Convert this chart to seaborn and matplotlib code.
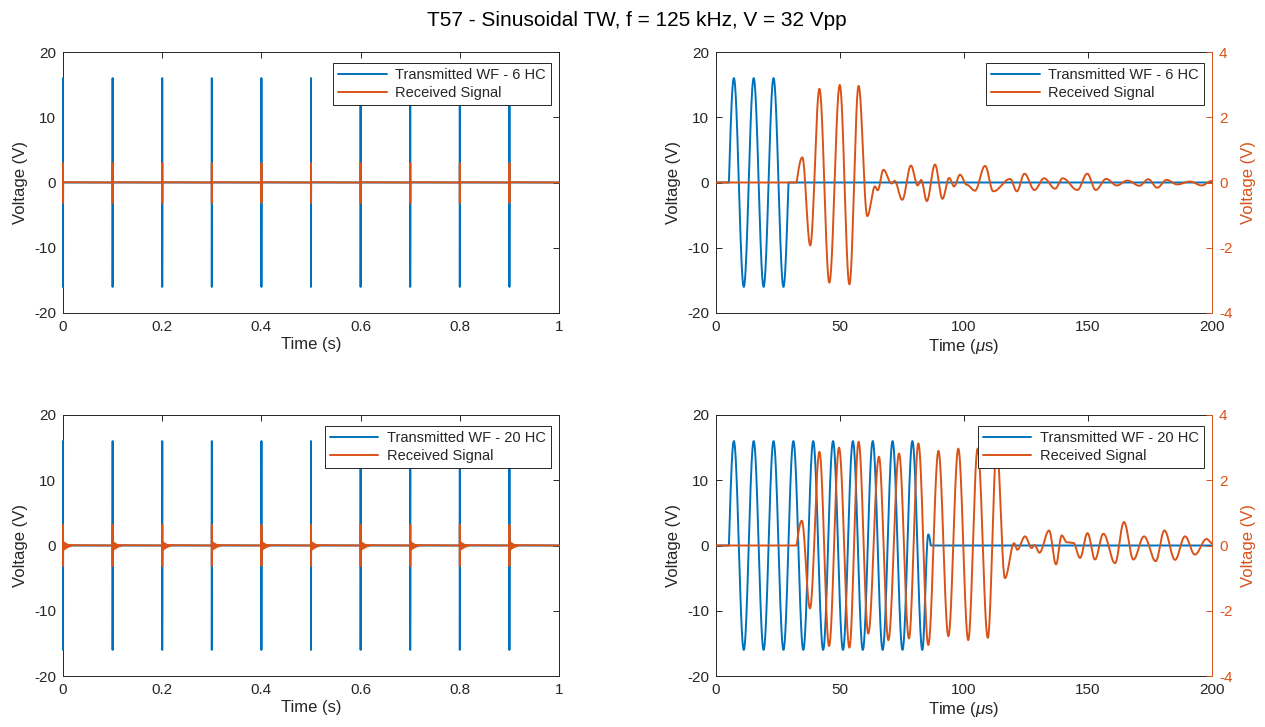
import numpy as np
import pandas as pd
import matplotlib
matplotlib.use("Agg")
import matplotlib.pyplot as plt
from matplotlib.ticker import FixedLocator
import seaborn as sns

# ---------------------------------------------------------------------------
# Data: turning points of each trace (time in microseconds, voltage in V)
# ---------------------------------------------------------------------------
TITLE = "T57 - Sinusoidal TW, f = 125 kHz, V = 32 Vpp"

# transmitted burst, 6 half cycles
tx6_t = [0.0, 5.2, 7.2, 11.2, 15.2, 19.2, 23.2, 27.2, 29.2, 200.0]
tx6_v = [0.0, 0.0, 16.0, -16.0, 16.0, -16.0, 16.0, -16.0, 0.0, 0.0]

# transmitted burst, 20 half cycles
tx20_t = [0.0, 5.2, 7.2, 11.2, 15.2, 19.2, 23.2, 27.2, 31.2, 35.2, 39.2, 43.2,
          47.2, 51.2, 55.2, 59.2, 63.2, 67.2, 71.2, 75.2, 79.2, 83.2, 85.6,
          86.6, 200.0]
tx20_v = [0.0, 0.0, 16.0, -16.0, 16.0, -16.0, 16.0, -16.0, 16.0, -16.0, 16.0,
          -16.0, 16.0, -16.0, 16.0, -16.0, 16.0, -16.0, 16.0, -16.0, 16.0,
          -16.0, 1.7, 0.0, 0.0]

# received signal for the 6 HC burst
rx6_t = [0.0, 32.5, 34.8, 38.0, 41.7, 45.7, 49.9, 53.8, 57.5, 61.0, 64.1,
         65.2, 67.5, 70.8, 72.0, 75.1, 78.6, 81.3, 82.7, 85.0, 88.3, 91.3,
         94.0, 96.0, 98.4, 101.1, 104.4, 108.5, 111.8, 118.6, 121.3, 124.4,
         128.4, 132.3, 136.7, 139.8, 145.7, 149.7, 153.1, 157.3, 161.6, 165.9,
         170.7, 174.3, 177.9, 181.7, 186.0, 191.1, 195.8, 200.0]
rx6_v = [0.0, 0.0, 0.77, -1.93, 2.87, -3.07, 2.99, -3.12, 2.96, -1.03, -0.12,
         -0.24, 0.39, -0.03, 0.05, -0.53, 0.52, -0.09, 0.08, -0.57, 0.55,
         -0.50, 0.14, -0.12, 0.24, -0.07, -0.25, 0.51, -0.27, 0.11, -0.27,
         0.27, -0.23, 0.13, -0.19, 0.13, -0.23, 0.27, -0.23, 0.11, -0.09, 0.06,
         -0.10, 0.10, -0.16, 0.08, -0.06, 0.03, -0.09, 0.05]

# received signal for the 20 HC burst
rx20_t = [0.0, 32.5, 34.6, 37.9, 41.7, 45.6, 49.6, 53.8, 57.5, 61.4, 65.7,
          69.5, 73.8, 77.8, 81.6, 85.6, 89.7, 93.7, 97.7, 101.7, 105.5, 109.6,
          113.2, 116.5, 120.2, 121.5, 124.6, 127.3, 128.4, 130.4, 134.3, 137.1,
          139.4, 141.4, 144.1, 146.8, 149.8, 152.8, 156.2, 160.9, 164.5, 168.3,
          172.6, 177.3, 180.8, 185.1, 189.1, 193.1, 197.8, 200.0]
rx20_v = [0.0, 0.0, 0.76, -1.93, 2.87, -3.08, 3.00, -3.13, 3.18, -2.70, 2.72,
          -2.90, 2.82, -2.85, 3.13, -3.05, 2.90, -2.78, 2.97, -2.90, 2.97,
          -2.83, 3.00, -1.00, 0.07, -0.13, 0.28, -0.08, 0.02, -0.22, 0.46,
          -0.58, 0.31, 0.10, 0.08, -0.38, 0.38, -0.43, 0.36, -0.54, 0.72,
          -0.43, 0.28, -0.48, 0.46, -0.44, 0.28, -0.28, 0.20, 0.07]

# burst repetition (seconds) and the slow ring-down seen after each 20 HC echo
burst_starts = [0.0, 0.1, 0.2, 0.3, 0.4, 0.5, 0.6, 0.7, 0.8, 0.9]
ringdown_ms = [0.2, 4.0, 10.0, 17.0]
ringdown_env = [0.65, 0.45, 0.18, 0.0]

legend_top = ["Transmitted WF - 6 HC", "Received Signal"]
legend_bottom = ["Transmitted WF - 20 HC", "Received Signal"]

BLUE = "#0072BD"
ORANGE = "#D95319"
INK = "0.15"


def smooth_trace(tk, vk, step=0.05):
    """Draw a smooth oscillation through the listed turning points."""
    ts, vs = [], []
    for t0, t1, v0, v1 in zip(tk[:-1], tk[1:], vk[:-1], vk[1:]):
        n = max(int(round((t1 - t0) / step)), 2)
        s = np.linspace(0.0, 1.0, n, endpoint=False)
        if v0 == 0 and v1 == 0:
            seg = np.zeros_like(s)
        elif v0 == 0:
            seg = v1 * np.sin(0.5 * np.pi * s)
        elif v1 == 0:
            seg = v0 * np.cos(0.5 * np.pi * s)
        else:
            seg = v0 + (v1 - v0) * (1 - np.cos(np.pi * s)) / 2
        ts.append(t0 + (t1 - t0) * s)
        vs.append(seg)
    ts.append([tk[-1]])
    vs.append([vk[-1]])
    return np.concatenate(ts), np.concatenate(vs)


def repeat_bursts(t_us, v):
    """Place one burst trace at every repetition time (result in seconds)."""
    ts = [tb + t_us * 1e-6 for tb in burst_starts] + [np.array([1.0])]
    vs = [v for _ in burst_starts] + [np.array([0.0])]
    return np.concatenate(ts), np.concatenate(vs)


# ---------------------------------------------------------------------------
# Styling
# ---------------------------------------------------------------------------
sns.set_theme(style="white")
plt.rcParams["font.family"] = ["Liberation Sans", "DejaVu Sans"]
plt.rcParams["mathtext.fontset"] = "custom"
plt.rcParams["mathtext.rm"] = "Liberation Sans"
plt.rcParams["mathtext.it"] = "Liberation Sans:italic"
plt.rcParams["axes.unicode_minus"] = False

fig = plt.figure(figsize=(12.65, 7.27), dpi=100)
fig.patch.set_facecolor("white")

W_PX, H_PX = 1265, 727


def add_axes(x0, y0, x1, y1):
    return fig.add_axes([x0 / W_PX, 1 - y1 / H_PX, (x1 - x0) / W_PX, (y1 - y0) / H_PX])


def style_axes(ax, right_ticks=True):
    for side, sp in ax.spines.items():
        sp.set_color(INK)
        sp.set_linewidth(0.7)
    ax.tick_params(direction="in", length=4, width=0.7, colors=INK,
                   labelsize=11, top=True, right=right_ticks, pad=5)
    ax.set_facecolor("white")


def draw_line(ax, x, y, color, label, clip=True):
    df = pd.DataFrame({"x": x, "y": y})
    sns.lineplot(data=df, x="x", y="y", ax=ax, color=color, linewidth=1.4,
                 estimator=None, sort=False, label=label, legend=False)
    line = ax.get_lines()[-1]
    if not clip:
        line.set_clip_on(False)
        line.set_zorder(3)


def add_legend(ax, handles, labels):
    leg = ax.legend(handles, labels, loc="upper right",
                    bbox_to_anchor=(1 - 8 / 496, 1 - 11 / 261),
                    borderaxespad=0, fontsize=10.5, handlelength=3.3,
                    handletextpad=0.6, borderpad=0.35, labelspacing=0.25,
                    fancybox=False, framealpha=1, edgecolor=INK)
    leg.get_frame().set_linewidth(0.7)
    leg.set_zorder(10)
    return leg


# ---------------------------------------------------------------------------
# Left column: full one-second record; right column: one burst in detail
# ---------------------------------------------------------------------------
panels = [
    (52, 313, tx6_t, tx6_v, rx6_t, rx6_v, legend_top, False),
    (415, 676, tx20_t, tx20_v, rx20_t, rx20_v, legend_bottom, True),
]

for (y0, y1, txt, txv, rxt, rxv, labels, ringdown) in panels:
    ax = add_axes(63, y0, 559, y1)
    t_tx, v_tx = smooth_trace(txt, txv)
    t_rx, v_rx = smooth_trace(rxt, rxv)
    x_tx, y_tx = repeat_bursts(t_tx, v_tx)
    x_rx, y_rx = repeat_bursts(t_rx, v_rx)
    draw_line(ax, x_tx, y_tx, BLUE, labels[0], clip=False)
    draw_line(ax, x_rx, y_rx, ORANGE, labels[1], clip=False)
    if ringdown:
        env = np.array(ringdown_env)
        for tb in burst_starts:
            tt = tb + np.array(ringdown_ms) * 1e-3
            ax.fill_between(tt, -env, env, color=ORANGE, linewidth=0.8,
                            edgecolor=ORANGE, zorder=3)
    ax.set_xlim(0, 1)
    ax.set_ylim(-20, 20)
    ax.xaxis.set_major_locator(FixedLocator([0, 0.2, 0.4, 0.6, 0.8, 1.0]))
    ax.set_xticklabels(["0", "0.2", "0.4", "0.6", "0.8", "1"])
    ax.yaxis.set_major_locator(FixedLocator([-20, -10, 0, 10, 20]))
    ax.set_xlabel("Time (s)", fontsize=12, color=INK, labelpad=2)
    ax.set_ylabel("Voltage (V)", fontsize=12, color=INK, labelpad=4)
    style_axes(ax)
    add_legend(ax, ax.get_lines()[:2], labels)

    axl = add_axes(716, y0, 1212, y1)
    axr = axl.twinx()
    draw_line(axl, t_tx, v_tx, BLUE, labels[0])
    draw_line(axr, t_rx, v_rx, ORANGE, labels[1])
    axl.set_xlim(0, 200)
    axl.set_ylim(-20, 20)
    axr.set_ylim(-4, 4)
    axl.xaxis.set_major_locator(FixedLocator([0, 50, 100, 150, 200]))
    axl.yaxis.set_major_locator(FixedLocator([-20, -10, 0, 10, 20]))
    axr.yaxis.set_major_locator(FixedLocator([-4, -2, 0, 2, 4]))
    axl.set_xlabel(r"Time ($\mu$s)", fontsize=12, color=INK, labelpad=2)
    axl.set_ylabel("Voltage (V)", fontsize=12, color=INK, labelpad=4)
    axr.set_ylabel("Voltage (V)", fontsize=12, color=ORANGE, labelpad=6)
    style_axes(axl, right_ticks=False)
    axl.spines["right"].set_visible(False)
    for side in ("left", "top", "bottom"):
        axr.spines[side].set_visible(False)
    axr.spines["right"].set_color(ORANGE)
    axr.spines["right"].set_linewidth(0.7)
    axr.tick_params(axis="y", direction="in", length=4, width=0.7,
                    colors=ORANGE, labelsize=11, pad=5)
    handles = axl.get_lines()[:1] + axr.get_lines()[:1]
    add_legend(axr, handles, labels)

fig.suptitle(TITLE, fontsize=15, color="black", x=0.5035, y=1 - 20 / H_PX,
             va="center")

fig.savefig("out.png", dpi=100, facecolor="white")
